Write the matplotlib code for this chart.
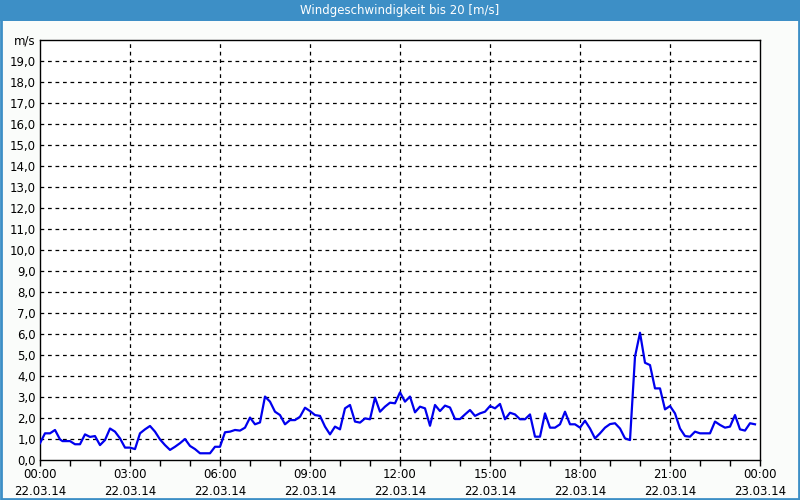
import numpy as np
import matplotlib
matplotlib.use("Agg")
import matplotlib.pyplot as plt
from matplotlib.patches import Rectangle

# wind speed readings: minutes after 22.03.14 00:00, value in m/s
minutes = [0, 10, 20, 30, 40, 45, 60, 70, 80, 90, 100, 110, 120, 130, 140, 150,
           160, 170, 180, 190, 200, 210, 220, 230, 240, 250, 260, 270, 280, 290,
           300, 310, 320, 340, 350, 360, 370, 380, 390, 400, 410, 420, 430, 440,
           450, 460, 470, 480, 490, 500, 510, 520, 530, 540, 550, 560, 570, 580,
           590, 600, 610, 620, 630, 640, 650, 660, 670, 680, 690, 700, 710, 720,
           730, 740, 750, 760, 770, 780, 790, 800, 810, 820, 830, 840, 850, 860,
           870, 880, 890, 900, 910, 920, 930, 940, 950, 960, 970, 980, 990, 1000,
           1010, 1020, 1030, 1040, 1050, 1060, 1070, 1080, 1090, 1100, 1110, 1120,
           1130, 1140, 1150, 1160, 1170, 1180, 1190, 1200, 1210, 1220, 1230, 1240,
           1250, 1260, 1270, 1280, 1290, 1300, 1310, 1320, 1340, 1350, 1360, 1370,
           1380, 1390, 1400, 1410, 1420, 1430]
speed = [0.80, 1.27, 1.27, 1.43, 0.98, 0.90, 0.90, 0.75, 0.75, 1.22, 1.10, 1.14,
         0.71, 0.95, 1.50, 1.35, 1.03, 0.59, 0.59, 0.52, 1.27, 1.46, 1.62, 1.35,
         0.98, 0.71, 0.48, 0.63, 0.80, 1.00, 0.67, 0.52, 0.32, 0.32, 0.63, 0.63,
         1.32, 1.35, 1.43, 1.40, 1.54, 2.02, 1.70, 1.79, 3.02, 2.78, 2.30, 2.14,
         1.70, 1.90, 1.90, 2.06, 2.49, 2.33, 2.14, 2.10, 1.59, 1.22, 1.59, 1.46,
         2.46, 2.62, 1.83, 1.78, 1.98, 1.94, 2.97, 2.30, 2.54, 2.73, 2.70, 3.22,
         2.78, 3.02, 2.27, 2.54, 2.46, 1.63, 2.62, 2.33, 2.59, 2.50, 1.95, 1.95,
         2.17, 2.38, 2.10, 2.22, 2.30, 2.57, 2.46, 2.67, 1.94, 2.25, 2.17, 1.94,
         1.94, 2.17, 1.11, 1.11, 2.22, 1.54, 1.54, 1.70, 2.30, 1.70, 1.70, 1.54,
         1.87, 1.50, 1.03, 1.27, 1.54, 1.71, 1.75, 1.50, 1.03, 0.95, 4.92, 6.06,
         4.63, 4.52, 3.41, 3.41, 2.41, 2.57, 2.22, 1.50, 1.14, 1.11, 1.35, 1.27,
         1.27, 1.83, 1.67, 1.54, 1.59, 2.14, 1.46, 1.40, 1.75, 1.70]

tick_hours = [0, 3, 6, 9, 12, 15, 18, 21, 24]
tick_times = ["00:00", "03:00", "06:00", "09:00", "12:00", "15:00", "18:00", "21:00", "00:00"]
tick_dates = ["22.03.14"] * 8 + ["23.03.14"]
title = "Windgeschwindigkeit bis 20 [m/s]"
unit = "m/s"

frame_blue = "#3d8fc6"
font = "DejaVu Sans"

fig = plt.figure(figsize=(8, 5), dpi=100, facecolor="#fafcfa")

# title bar and outer border
fig.patches.append(Rectangle((0, 0.958), 1, 0.042, transform=fig.transFigure,
                             facecolor=frame_blue, edgecolor="none", zorder=0))
fig.patches.append(Rectangle((0.001, 0.002), 0.998, 0.996, transform=fig.transFigure,
                             facecolor="none", edgecolor=frame_blue, lw=2, zorder=1))
fig.text(0.5, 0.979, title, color="white", ha="center", va="center",
         fontsize=8.5, family=font)

ax = fig.add_axes([0.05, 0.08, 0.90, 0.84])
ax.set_facecolor("white")
hours = np.array(minutes) / 60.0
ax.plot(hours, speed, color="#0000ee", lw=1.6, solid_joinstyle="round", zorder=3)

ax.set_xlim(0, 24)
ax.set_ylim(0, 20)

# y axis
yt = list(range(0, 21))
ax.set_yticks(yt)
ax.set_yticklabels([f"{v},0" for v in yt[:-1]] + [unit], fontsize=8.5, family=font)
ax.tick_params(axis="y", length=0, pad=3)

# x axis
ax.set_xticks(tick_hours)
ax.set_xticklabels([f"{t}\n{d}" for t, d in zip(tick_times, tick_dates)],
                   fontsize=8.5, family=font, linespacing=1.35)
ax.set_xticks(range(0, 25), minor=True)
ax.tick_params(axis="x", which="both", direction="out", length=4, width=1, pad=2)

for v in range(1, 20):
    ax.axhline(v, color="black", lw=0.9, ls=(0, (3, 3)), zorder=1)
for h in tick_hours[1:-1]:
    ax.axvline(h, color="black", lw=0.9, ls=(0, (3, 3)), zorder=1)

for s in ax.spines.values():
    s.set_linewidth(1)
    s.set_color("black")

fig.savefig("out.png", dpi=100, facecolor=fig.get_facecolor())
